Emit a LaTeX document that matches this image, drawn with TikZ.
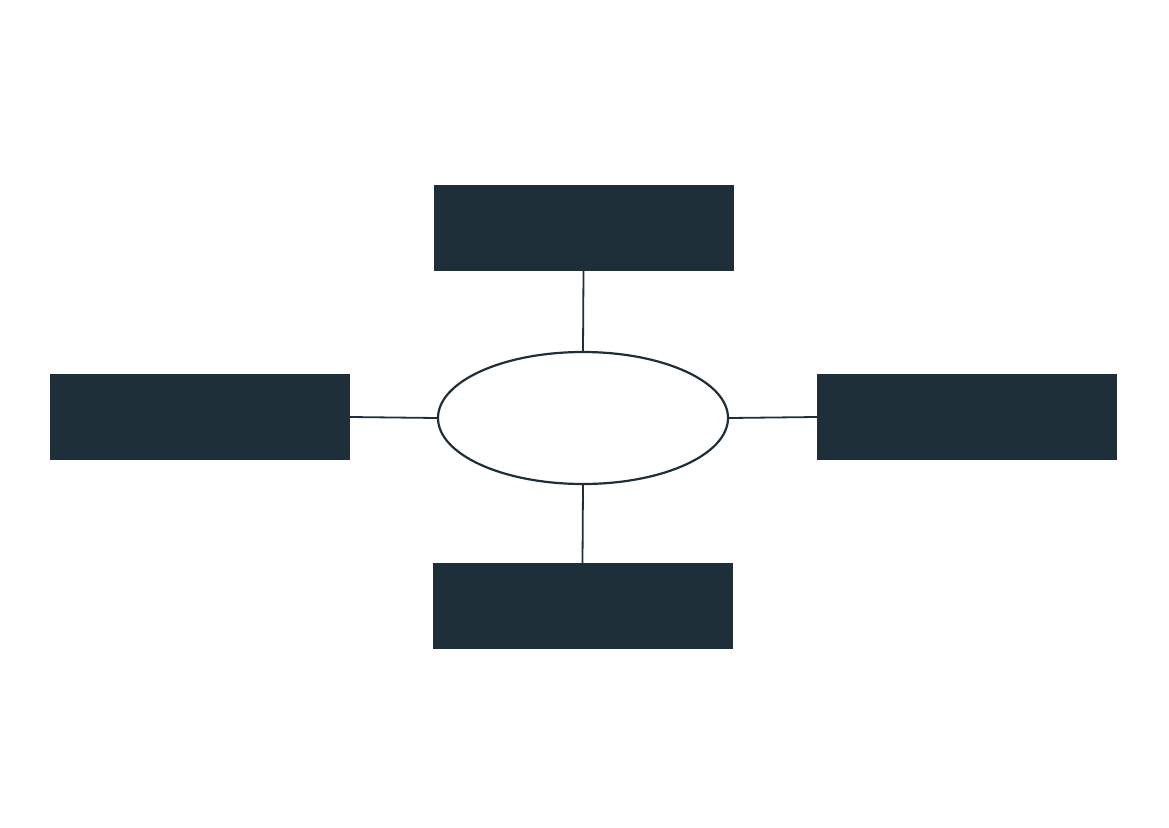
\documentclass[tikz,border=0pt]{standalone}
\usetikzlibrary{shapes.geometric}
\definecolor{boxdark}{HTML}{1F2F3A}
\begin{document}
\begin{tikzpicture}[x=1pt,y=-1pt,
	box/.style={fill=boxdark,draw=none,minimum width=300pt,minimum height=86pt,inner sep=0pt},
	hub/.style={ellipse,draw=boxdark,line width=2.2pt,fill=white,minimum width=290pt,minimum height=132pt,inner sep=0pt},
	link/.style={draw=boxdark,line width=1.8pt}]
	\useasboundingbox (0,0) rectangle (1169,827);

	\node[hub] (hub) at (583,418) {};
	\node[box] (top) at (583.5,228) {};
	\node[box] (left) at (200,417) {};
	\node[box] (right) at (967,417) {};
	\node[box] (bottom) at (582.5,606) {};

	\draw[link] (hub.north) -- (top.south);
	\draw[link] (hub.west) -- (left.east);
	\draw[link] (hub.east) -- (right.west);
	\draw[link] (hub.south) -- (bottom.north);
\end{tikzpicture}
\end{document}
